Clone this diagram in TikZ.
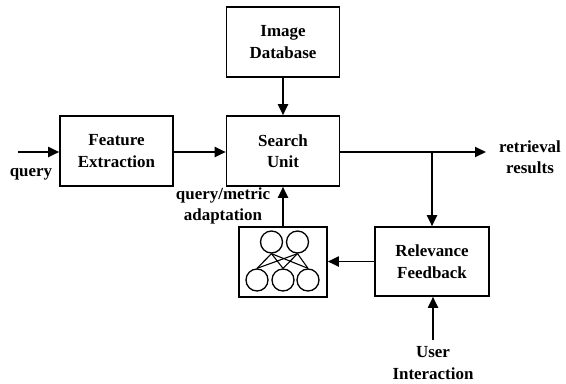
\documentclass[tikz,border=0pt]{standalone}
\usepackage{fontspec}
\setmainfont{Liberation Serif}
\usetikzlibrary{arrows.meta}
\begin{document}
\begin{tikzpicture}[x=1bp,y=-1bp,
  every node/.style={font=\fontsize{17}{21.5}\selectfont\bfseries, align=center, inner sep=0pt},
  block/.style={draw, line width=1.6bp, minimum width=113bp, minimum height=70bp},
  link/.style={line width=1.9bp, -{Triangle[length=11bp,width=10bp]}},
  neuron/.style={draw, circle, line width=1.3bp, minimum size=22bp},
  wire/.style={line width=1.1bp}]
  \useasboundingbox (0,0) rectangle (566,383);

  % processing blocks
  \node[block] (db) at (283,42) {Image\\Database};
  \node[block] (su) at (283,151) {Search\\Unit};
  \node[block] (fe) at (116.5,151) {Feature\\Extraction};
  \node[block, minimum width=114bp, minimum height=69bp] (rf) at (432,261.5) {Relevance\\Feedback};
  \node[block, minimum width=88bp] (nn) at (283,262) {};

  % small network drawn inside the learning block
  \node[neuron] (h1) at (271.5,242) {};
  \node[neuron] (h2) at (297.5,242) {};
  \node[neuron] (o1) at (257,280) {};
  \node[neuron] (o2) at (283,280) {};
  \node[neuron] (o3) at (308,280) {};
  \foreach \h in {h1,h2}
    \foreach \o in {o1,o2,o3}
      \draw[wire] (\h.south) -- (\o.north);

  % free labels and end points
  \node (qtext) at (31,174) {query};
  \coordinate (qin) at (18,152);
  \coordinate (out) at (486,152);
  \coordinate (split) at (432,152);
  \node (rtext) at (530,157) {retrieval\\results};
  \node (ui) at (433,363) {User\\Interaction};
  \coordinate (uistart) at (433,340);
  \node (adapt) at (223,206) {query/metric\\adaptation};

  % connectors
  \draw[link] (qin) -- (qin -| fe.west);
  \draw[link] (fe.east |- qin) -- (su.west |- qin);
  \draw[link] (db.south) -- (su.north);
  \draw[link] (su.east |- out) -- (out);
  \draw[link] (split) -- (rf.north);
  \draw[link] (uistart) -- (rf.south -| uistart);
  \draw[link] (rf.west) -- (nn.east |- rf.west);
  \draw[link] (nn.north) -- (su.south);
\end{tikzpicture}
\end{document}
